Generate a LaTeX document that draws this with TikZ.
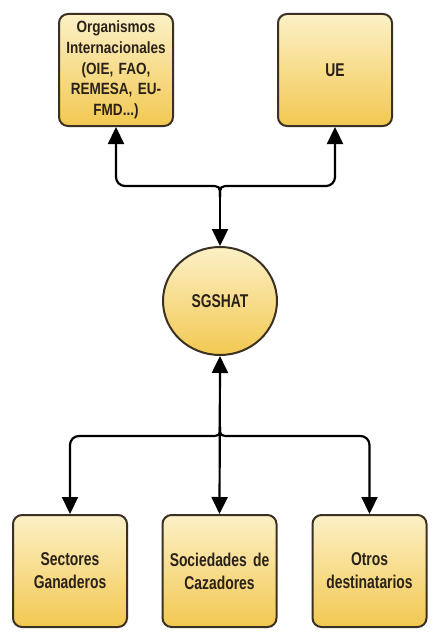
\documentclass[tikz,border=0pt]{standalone}
\usepackage{fontspec}
\setmainfont{Liberation Sans}[FakeStretch=0.75]
\newfontfamily\orgfont{Liberation Sans}[FakeStretch=0.83]
\newcommand\tightsp{\spaceskip=4pt\relax}
\usetikzlibrary{arrows.meta,shapes.geometric}
\definecolor{boxtop}{HTML}{FCF0C6}
\definecolor{boxbot}{HTML}{F2C851}
\definecolor{boxline}{HTML}{3B3122}
\definecolor{txt}{HTML}{2A2218}
\tikzset{
  basebox/.style={draw=boxline, line width=2pt, top color=boxtop, bottom color=boxbot,
    align=center, text=txt, font=\bfseries\fontsize{18.5}{23}\selectfont\tightsp, inner sep=2pt},
  rbox/.style={basebox, rectangle, rounded corners=9pt, minimum width=114pt, minimum height=112pt, text width=110pt},
  cbox/.style={basebox, ellipse, minimum width=114pt, minimum height=108pt},
  conn/.style={line width=2.2pt, draw=black},
  tip/.style={-{Triangle[length=17pt,width=16pt]}}
}
\begin{document}
\begin{tikzpicture}[x=1pt,y=-1pt]
\useasboundingbox (0,0) rectangle (436,634);
\node[rbox, font=\orgfont\bfseries\fontsize{16.3}{20.7}\selectfont\tightsp] (org) at (116,70) {Organismos\\Internacionales\\(OIE, FAO,\\REMESA, EU-\\FMD...)};
\node[rbox] (ue) at (335,70) {UE};
\node[cbox] (sg) at (220,301) {SGSHAT};
\node[rbox] (sec) at (70,571) {Sectores\\Ganaderos};
\node[rbox] (soc) at (219.5,571) {Sociedades de\\Cazadores};
\node[rbox] (otr) at (369.5,571) {Otros\\destinatarios};
\coordinate (jt) at (220,197);
\coordinate (jb) at (220,427);
% top connectors
\draw[conn,tip] (jt) -- (sg.north);
\draw[conn,tip] (jt) .. controls (220,186) .. (209,186) [rounded corners=9pt] -- (org.south |- 0,186) -- (org.south);
\draw[conn,tip] (jt) .. controls (220,186) .. (231,186) [rounded corners=9pt] -- (ue.south |- 0,186) -- (ue.south);
% bottom connectors
\draw[conn,{Triangle[length=17pt,width=16pt]}-{Triangle[length=17pt,width=16pt]}] (sg.south) -- (soc.north);
\draw[conn,tip] (jb) .. controls (220,436) .. (209,436) [rounded corners=9pt] -- (sec.north |- 0,436) -- (sec.north);
\draw[conn,tip] (jb) .. controls (220,436) .. (231,436) [rounded corners=9pt] -- (otr.north |- 0,436) -- (otr.north);
\end{tikzpicture}
\end{document}
